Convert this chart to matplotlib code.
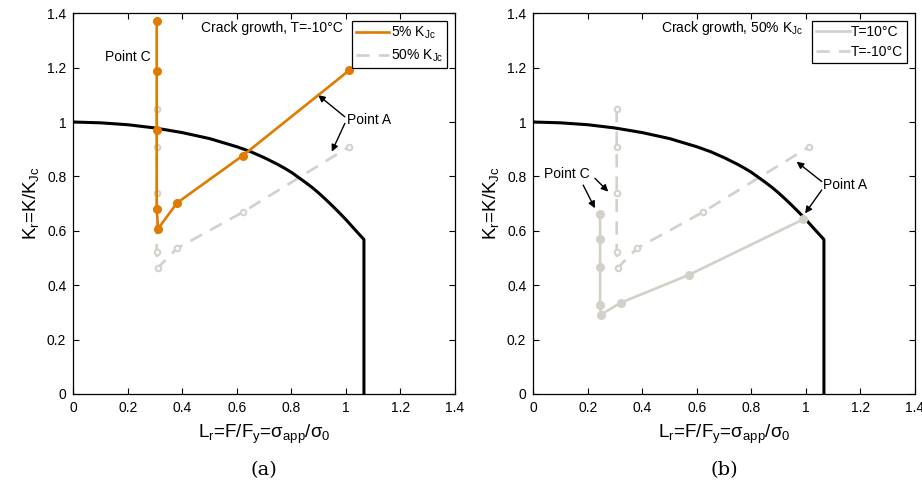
import matplotlib.pyplot as plt

plt.rcParams['font.family'] = ['Liberation Sans', 'DejaVu Sans']
plt.rcParams['mathtext.fontset'] = 'custom'
plt.rcParams['mathtext.rm'] = 'Liberation Sans'
plt.rcParams['mathtext.it'] = 'Liberation Sans'

# failure assessment curve
fad_lr = [0, 0.1, 0.2, 0.3, 0.4, 0.5, 0.6, 0.65, 0.7, 0.75, 0.775, 0.8, 0.825,
          0.85, 0.875, 0.9, 0.925, 0.95, 0.975, 1.0, 1.035, 1.066, 1.066]
fad_kr = [1.0, 0.997, 0.990, 0.978, 0.961, 0.939, 0.909, 0.891, 0.869, 0.844,
          0.830, 0.815, 0.797, 0.779, 0.760, 0.739, 0.716, 0.692, 0.667, 0.641,
          0.602, 0.568, 0.0]

# (a) T=-10C, 5% KJc
a5_lr = [0.306, 0.306, 0.306, 0.306, 0.311, 0.381, 0.621, 1.012]
a5_kr = [1.372, 1.187, 0.969, 0.679, 0.608, 0.703, 0.876, 1.190]

# T=-10C, 50% KJc (both panels)
a50_lr = [0.306, 0.306, 0.306, 0.306, 0.309, 0.381, 0.621, 1.012]
a50_kr = [1.047, 0.907, 0.738, 0.521, 0.463, 0.536, 0.668, 0.909]

# (b) T=10C, 50% KJc
b10_lr = [0.245, 0.245, 0.245, 0.245, 0.248, 0.320, 0.570, 0.990]
b10_kr = [0.661, 0.570, 0.466, 0.327, 0.292, 0.335, 0.4375, 0.642]

orange = '#E07B00'
grey = '#D3CFC9'
fs = 10

fig = plt.figure(figsize=(9.22, 4.9), dpi=100)
ax1 = fig.add_axes([0.0795, 0.196, 0.414, 0.777])
ax2 = fig.add_axes([0.5784, 0.196, 0.414, 0.777])

arrow = dict(arrowstyle='-|>', color='black', lw=1.0, mutation_scale=10,
             shrinkA=0, shrinkB=0)

for ax in (ax1, ax2):
    ax.plot(fad_lr, fad_kr, color='black', lw=2.2, zorder=3)
    ax.set_xlim(0, 1.4)
    ax.set_ylim(0, 1.4)
    ax.set_xticks([0, 0.2, 0.4, 0.6, 0.8, 1, 1.2, 1.4])
    ax.set_yticks([0, 0.2, 0.4, 0.6, 0.8, 1, 1.2, 1.4])
    ax.set_xticklabels(['0', '0.2', '0.4', '0.6', '0.8', '1', '1.2', '1.4'])
    ax.set_yticklabels(['0', '0.2', '0.4', '0.6', '0.8', '1', '1.2', '1.4'])
    ax.tick_params(direction='in', top=True, right=True, labelsize=fs,
                   length=4, width=0.8, pad=5)
    for s in ax.spines.values():
        s.set_linewidth(0.9)
    ax.set_xlabel(r'L$_r$=F/F$_y$=σ$_{app}$/σ$_0$', fontsize=13.5, labelpad=6)
    ax.set_ylabel(r'K$_r$=K/K$_{Jc}$', fontsize=13.5, labelpad=4)

# left panel
ax1.plot(a5_lr, a5_kr, color=orange, lw=1.9, marker='o', ms=5.5,
         mfc=orange, mec=orange, label=r'5% K$_{Jc}$', zorder=4)
ax1.plot(a50_lr, a50_kr, color=grey, lw=1.9, ls=(0, (5, 3.5)), marker='o',
         ms=4, mfc='white', mec=grey, mew=1.4, label=r'50% K$_{Jc}$', zorder=2)
leg = ax1.legend(loc='upper right', fontsize=fs, fancybox=False,
                 edgecolor='black', framealpha=1, borderpad=0.3,
                 handlelength=2.4, handletextpad=0.1, labelspacing=0.45,
                 borderaxespad=0.55)
leg.get_frame().set_linewidth(0.9)
for h in leg.legend_handles:
    h.set_marker('')
ax1.text(0.73, 1.345, 'Crack growth, T=-10°C', fontsize=fs, ha='center',
         va='center')
ax1.text(0.20, 1.24, 'Point C', fontsize=fs, ha='center', va='center')
ax1.text(1.003, 1.007, 'Point A', fontsize=fs, ha='left', va='center')
ax1.annotate('', xy=(0.898, 1.099), xytext=(0.996, 1.019), arrowprops=arrow)
ax1.annotate('', xy=(0.948, 0.891), xytext=(0.996, 0.995), arrowprops=arrow)

# right panel
ax2.plot(b10_lr, b10_kr, color=grey, lw=1.9, marker='o', ms=5.5,
         mfc=grey, mec=grey, label='T=10°C', zorder=4)
ax2.plot(a50_lr, a50_kr, color=grey, lw=1.9, ls=(0, (5, 3.5)), marker='o',
         ms=4, mfc='white', mec=grey, mew=1.4, label='T=-10°C', zorder=2)
leg = ax2.legend(loc='upper right', fontsize=fs, fancybox=False,
                 edgecolor='black', framealpha=1, borderpad=0.3,
                 handlelength=2.4, handletextpad=0.1, labelspacing=0.45,
                 borderaxespad=0.55)
leg.get_frame().set_linewidth(0.9)
for h in leg.legend_handles:
    h.set_marker('')
ax2.text(0.73, 1.345, r'Crack growth, 50% K$_{Jc}$', fontsize=fs,
         ha='center', va='center')
ax2.text(0.04, 0.81, 'Point C', fontsize=fs, ha='left', va='center')
ax2.annotate('', xy=(0.226, 0.683), xytext=(0.183, 0.768), arrowprops=arrow)
ax2.annotate('', xy=(0.275, 0.744), xytext=(0.226, 0.793), arrowprops=arrow)
ax2.text(1.063, 0.768, 'Point A', fontsize=fs, ha='left', va='center')
ax2.annotate('', xy=(0.966, 0.854), xytext=(1.058, 0.781), arrowprops=arrow)
ax2.annotate('', xy=(0.997, 0.664), xytext=(1.058, 0.750), arrowprops=arrow)

# sub-captions
fig.text(0.2865, 0.04, '(a)', fontsize=14, family='DejaVu Serif',
         ha='center', va='center')
fig.text(0.7855, 0.04, '(b)', fontsize=14, family='DejaVu Serif',
         ha='center', va='center')

fig.savefig('out.png', dpi=100)
